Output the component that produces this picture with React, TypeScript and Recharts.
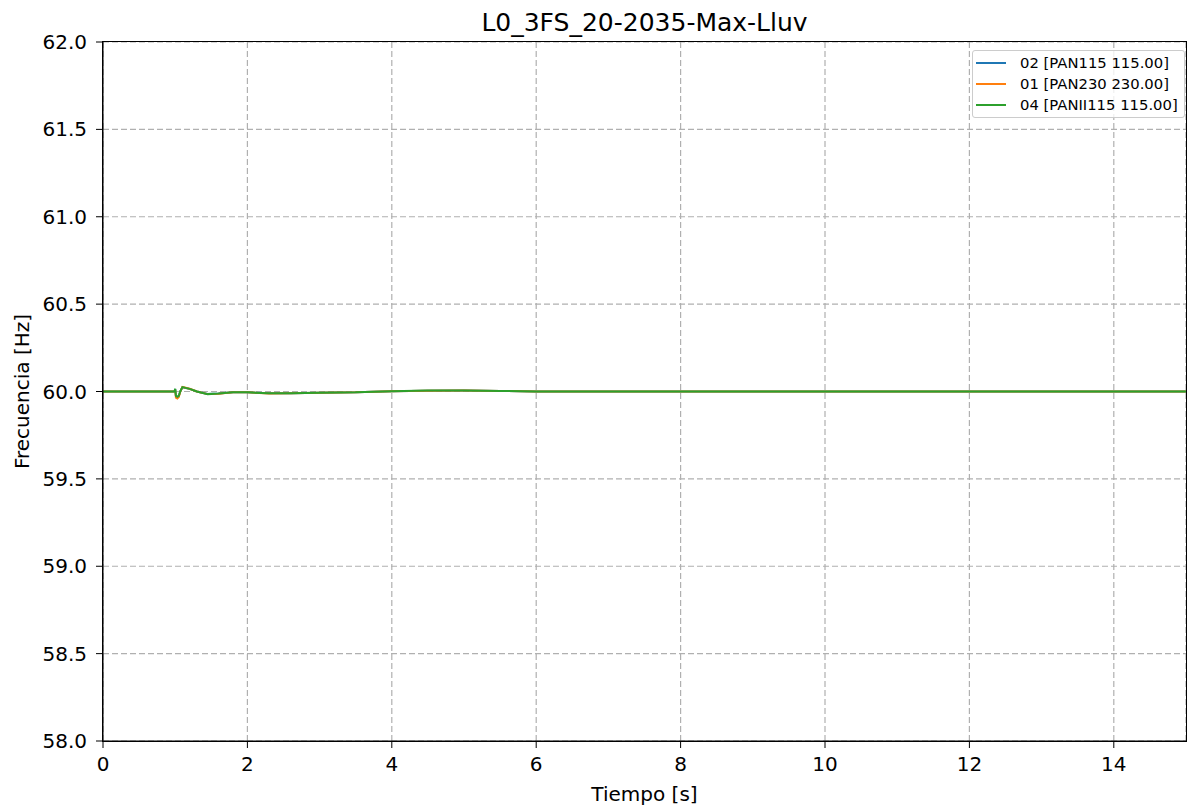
import React from 'react';
import { LineChart, Line, XAxis, YAxis, CartesianGrid } from 'recharts';

// Tiempo [s]
const tiempo = [0, 0.99, 1.0, 1.01, 1.03, 1.05, 1.07, 1.1, 1.2, 1.3, 1.45, 1.6, 1.8, 2.0, 2.3, 2.6, 3.0, 3.5, 4.0, 4.5, 5.0, 5.5, 6.0, 8, 10, 12, 15];

// Frecuencia [Hz] por barra
const pan115 = [60.0, 60.0, 60.014, 59.976, 59.97, 59.975, 60.0, 60.024, 60.015, 60.0, 59.986, 59.988, 59.995, 59.995, 59.99, 59.99, 59.993, 59.995, 60.002, 60.005, 60.006, 60.003, 60.0, 60.0, 60.0, 60.0, 60.0];
const pan230 = [60.0, 60.0, 60.01, 59.965, 59.96, 59.968, 59.998, 60.026, 60.016, 60.0, 59.985, 59.987, 59.995, 59.995, 59.989, 59.99, 59.993, 59.995, 60.002, 60.005, 60.006, 60.003, 60.0, 60.0, 60.0, 60.0, 60.0];
const panii115 = [60.0, 60.0, 60.015, 59.975, 59.97, 59.975, 60.0, 60.025, 60.015, 60.0, 59.985, 59.988, 59.995, 59.995, 59.99, 59.99, 59.993, 59.995, 60.002, 60.006, 60.006, 60.003, 60.0, 60.0, 60.0, 60.0, 60.0];

const xTicks = [0, 2, 4, 6, 8, 10, 12, 14];
const yTicks = [58.0, 58.5, 59.0, 59.5, 60.0, 60.5, 61.0, 61.5, 62.0];

const seriesNames = ['02 [PAN115 115.00]', '01 [PAN230 230.00]', '04 [PANII115 115.00]'];
const COLORS = ['#1f77b4', '#ff7f0e', '#2ca02c'];

const data = tiempo.map((t, i) => ({ t, a: pan115[i], b: pan230[i], c: panii115[i] }));

const FONT = '"DejaVu Sans", sans-serif';

const LegendBox = () => (
  <div
    style={{
      position: 'absolute',
      top: 50,
      left: 972,
      border: '1px solid #cccccc',
      borderRadius: 3,
      background: 'rgba(255,255,255,0.8)',
      padding: '1px 6px 2px 3px',
      fontFamily: FONT,
      fontSize: 14.8,
      color: '#000',
    }}
  >
    {seriesNames.map((n, i) => (
      <div key={n} style={{ display: 'flex', alignItems: 'center', height: 21 }}>
        <div style={{ width: 30, height: 2, background: COLORS[i], marginRight: 14 }} />
        <span>{n}</span>
      </div>
    ))}
  </div>
);

const App: React.FC = () => {
  return (
    <div style={{ position: 'absolute', left: 0, top: 0, width: 1187, height: 812, background: '#fff' }}>
      <div
        style={{
          position: 'absolute',
          top: 8,
          left: 103,
          width: 1083,
          textAlign: 'center',
          fontFamily: FONT,
          fontSize: 25,
          lineHeight: 'normal',
        }}
      >
        L0_3FS_20-2035-Max-Lluv
      </div>
      <LineChart
        width={1187}
        height={812}
        data={data}
        margin={{ top: 42, right: 1, bottom: 31, left: 43 }}
        style={{ fontFamily: FONT }}
      >
        <CartesianGrid stroke="#b0b0b0" strokeDasharray="6 3" strokeWidth={1.2} />
        <XAxis
          dataKey="t"
          type="number"
          domain={[0, 15]}
          ticks={xTicks}
          allowDataOverflow
          stroke="#000"
          tickSize={7}
          tickMargin={9}
          height={40}
          tick={{ fill: '#000', fontSize: 20 }}
          label={{ value: 'Tiempo [s]', position: 'insideBottom', offset: -20, fill: '#000', fontSize: 20 }}
        />
        <YAxis
          type="number"
          domain={[58, 62]}
          ticks={yTicks}
          allowDataOverflow
          stroke="#000"
          tickSize={7}
          tickMargin={9}
          width={60}
          tickFormatter={(v: number) => v.toFixed(1)}
          tick={{ fill: '#000', fontSize: 20 }}
          label={{ value: 'Frecuencia [Hz]', angle: -90, position: 'insideLeft', offset: -21, fill: '#000', fontSize: 20, style: { textAnchor: 'middle' } }}
        />
        <Line dataKey="a" name={seriesNames[0]} stroke={COLORS[0]} strokeWidth={2} dot={false} isAnimationActive={false} type="linear" />
        <Line dataKey="b" name={seriesNames[1]} stroke={COLORS[1]} strokeWidth={2} dot={false} isAnimationActive={false} type="linear" />
        <Line dataKey="c" name={seriesNames[2]} stroke={COLORS[2]} strokeWidth={2} dot={false} isAnimationActive={false} type="linear" />
      </LineChart>
      {/* plot frame */}
      <div
        style={{
          position: 'absolute',
          left: 102,
          top: 41,
          width: 1083,
          height: 699,
          border: '1px solid #000',
          pointerEvents: 'none',
        }}
      />
      <LegendBox />
    </div>
  );
};

export default App;
